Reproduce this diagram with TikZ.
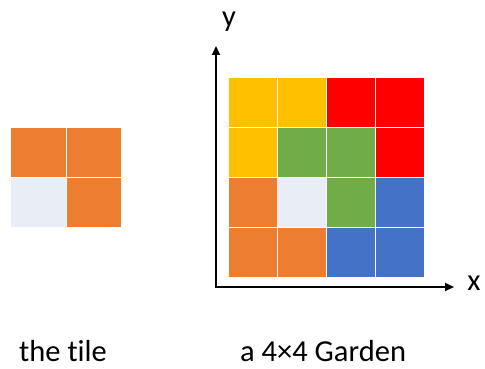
\documentclass[tikz,border=0pt]{standalone}
\usepackage{fontspec}
\setmainfont[Ligatures=NoCommon]{Carlito}
\usetikzlibrary{arrows.meta}
\definecolor{corange}{HTML}{ED7D31}
\definecolor{clight}{HTML}{E9EDF6}
\definecolor{cgold}{HTML}{FFC000}
\definecolor{cred}{HTML}{FF0000}
\definecolor{cgreen}{HTML}{70AD47}
\definecolor{cblue}{HTML}{4472C4}
\begin{document}
\begin{tikzpicture}[x=1pt,y=-1pt,
  tcell/.style={minimum width=55.5pt, minimum height=50pt, draw=white, line width=1.3pt, inner sep=0pt, anchor=north west},
  gcell/.style={minimum width=49pt, minimum height=50pt, draw=white, line width=1.3pt, inner sep=0pt, anchor=north west},
  axis/.style={line width=1.8pt, -{Triangle[length=9pt,width=8pt]}},
  lbl/.style={font=\fontsize{30.5}{36}\selectfont, inner sep=0pt}]
\useasboundingbox (0,0) rectangle (485,369);
% tile
\node[tcell, fill=corange] (t11) at (10,127) {};
\node[tcell, fill=corange] (t12) at (65.5,127) {};
\node[tcell, fill=clight] (t21) at (10,177) {};
\node[tcell, fill=corange] (t22) at (65.5,177) {};
% garden
\node[gcell, fill=cgold]   (g11) at (228,77) {};
\node[gcell, fill=cgold]   (g12) at (277,77) {};
\node[gcell, fill=cred]    (g13) at (326,77) {};
\node[gcell, fill=cred]    (g14) at (375,77) {};
\node[gcell, fill=cgold]   (g21) at (228,127) {};
\node[gcell, fill=cgreen]  (g22) at (277,127) {};
\node[gcell, fill=cgreen]  (g23) at (326,127) {};
\node[gcell, fill=cred]    (g24) at (375,127) {};
\node[gcell, fill=corange] (g31) at (228,177) {};
\node[gcell, fill=clight]  (g32) at (277,177) {};
\node[gcell, fill=cgreen]  (g33) at (326,177) {};
\node[gcell, fill=cblue]   (g34) at (375,177) {};
\node[gcell, fill=corange] (g41) at (228,227) {};
\node[gcell, fill=corange] (g42) at (277,227) {};
\node[gcell, fill=cblue]   (g43) at (326,227) {};
\node[gcell, fill=cblue]   (g44) at (375,227) {};
% axes
\coordinate (o) at (216,287);
\coordinate (ytip) at (216,46);
\coordinate (xtip) at (454,287);
\draw[axis] (o) -- (ytip);
\draw[axis] ([xshift=-0.9pt]o) -- (xtip);
\node[lbl] (ylab) at (229,22) {y};
\node[lbl] (xlab) at (474,283) {x};
% captions
\node[lbl, anchor=west] (cap1) at (19,351) {the tile};
\node[lbl, anchor=west] (cap2) at (240,351) {a 4×4 Garden};
\end{tikzpicture}
\end{document}
